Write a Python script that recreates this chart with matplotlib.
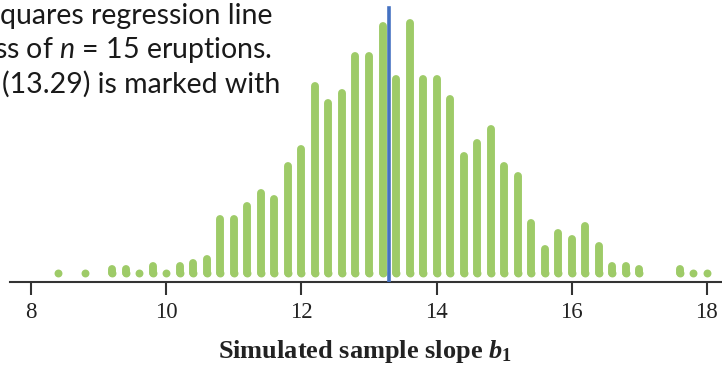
import numpy as np
import matplotlib
matplotlib.use("Agg")
import matplotlib.pyplot as plt

# simulated slopes (bin centres) and number of dots stacked in each column
slope_bins = [8.4, 8.8, 9.2, 9.4, 9.6, 9.8, 10.0, 10.2, 10.4, 10.6,
              10.8, 11.0, 11.2, 11.4, 11.6, 11.8, 12.0, 12.2, 12.4, 12.6,
              12.8, 13.0, 13.2, 13.4, 13.6, 13.8, 14.0, 14.2, 14.4, 14.6,
              14.8, 15.0, 15.2, 15.4, 15.6, 15.8, 16.0, 16.2, 16.4, 16.6,
              16.8, 17.0, 17.6, 17.8, 18.0]
dot_counts = [1, 1, 2, 2, 1, 3, 1, 3, 4, 5,
              17, 17, 21, 25, 23, 33, 38, 57, 52, 55,
              66, 66, 75, 59, 76, 59, 59, 53, 36, 40,
              44, 33, 30, 16, 8, 13, 11, 15, 9, 3,
              3, 2, 2, 1, 1]
observed_slope = 13.29
tick_values = [8, 10, 12, 14, 16, 18]

caption_lines = ["quares regression line",
                 "ss of $n$ = 15 eruptions.",
                 "(13.29) is marked with"]

plt.rcParams['mathtext.fontset'] = 'custom'
plt.rcParams['mathtext.rm'] = 'Liberation Serif'
plt.rcParams['mathtext.it'] = 'Lato:italic'
plt.rcParams['mathtext.bf'] = 'Liberation Serif:bold'
plt.rcParams['mathtext.bfit'] = 'Liberation Serif:italic:bold'

W, H = 722, 365
fig = plt.figure(figsize=(W / 100, H / 100), dpi=100)
ax = fig.add_axes([0, (H - 281.5) / H, 1, 281.5 / H])

green = '#9ecb68'
dot_pt = 7.9 * 0.72
# each column of stacked dots drawn as a round-capped bar
ax.vlines(slope_bins, 1, dot_counts, color=green, lw=dot_pt,
          capstyle='round', zorder=2)
ax.scatter(slope_bins, np.ones(len(slope_bins)), s=dot_pt ** 2,
           color=green, linewidths=0, zorder=2)

ax.axvline(observed_slope, ymin=0, ymax=(281.5 - 7.5) / 281.5,
           color='#4471c1', lw=2.6, zorder=3)

ax.set_xlim(8 - 31.3 / 67.54, 8 + 690.7 / 67.54)
ax.set_ylim(-1.7, 82.8)

for s in ['top', 'left', 'right']:
    ax.spines[s].set_visible(False)
ax.spines['bottom'].set_color('#333333')
ax.spines['bottom'].set_linewidth(1.5)
ax.spines['bottom'].set_bounds(7.69, 18.3)
ax.set_yticks([])
ax.set_xticks(tick_values)
ax.set_xticklabels([str(t) for t in tick_values], fontfamily='Liberation Serif',
                   fontsize=16.5, color='#222222')
ax.tick_params(axis='x', direction='out', length=9, width=1.5,
               color='#333333', pad=6)

fig.text(365 / W, 1 - 358 / H, r'Simulated sample slope $\mathbfit{b}_\mathbf{1}$',
         ha='center', va='baseline', fontfamily='Liberation Serif',
         fontweight='bold', fontsize=19, color='#222222')

for line, x0, yb in zip(caption_lines, [0.5, -5.5, 2.5], [24, 58, 92.5]):
    fig.text(x0 / W, 1 - yb / H, line, ha='left', va='baseline',
             fontfamily='Lato', fontsize=20.5, color='#1a1a1a')

fig.savefig('out.png', dpi=100)
